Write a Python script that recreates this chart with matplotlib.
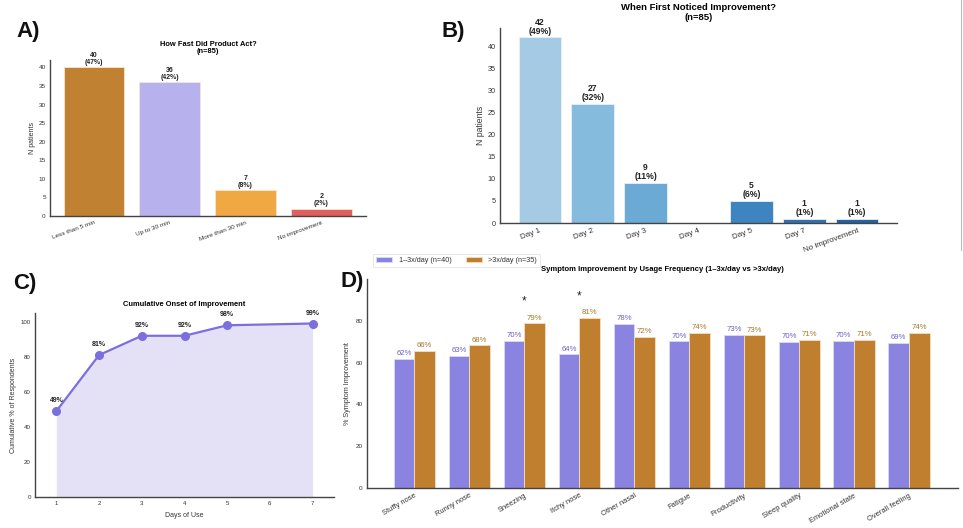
import matplotlib
matplotlib.use("Agg")
import matplotlib.pyplot as plt
import numpy as np

plt.rcParams['font.family'] = ['Liberation Sans', 'DejaVu Sans']

W, H = 963, 528

# ---------------- data ----------------
speed_cats = ["Less than 5 min", "Up to 30 min", "More than 30 min", "No improvement"]
speed_counts = [40, 36, 7, 2]
speed_colors = ["#c08232", "#b7b1ee", "#f0a942", "#e05f5f"]

day_cats = ["Day 1", "Day 2", "Day 3", "Day 4", "Day 5", "Day 7", "No improvement"]
day_counts = [42, 27, 9, 0, 5, 1, 1]
day_colors = ["#a5cbe4", "#85bbdd", "#6aaad4", "#5398cb", "#3e84c1", "#2f70b3", "#2161a6"]

cum_days = [1, 2, 3, 4, 5, 7]
cum_pct = [49, 81, 92, 92, 98, 99]

symptoms = ["Stuffy nose", "Runny nose", "Sneezing", "Itchy nose", "Other nasal",
            "Fatigue", "Productivity", "Sleep quality", "Emotional state", "Overall feeling"]
low_freq = [61.8, 63.3, 70.4, 64.0, 78.4, 70.2, 73.3, 69.9, 70.4, 69.3]
high_freq = [65.6, 68.2, 78.8, 81.4, 72.2, 74.3, 73.0, 71.0, 70.9, 74.3]
signif = [False, False, True, True, False, False, False, False, False, False]

N = 85

fig = plt.figure(figsize=(W / 100, H / 100), dpi=100)


def ax_px(l, t, r, b):
    return fig.add_axes([l / W, 1 - b / H, (r - l) / W, (b - t) / H])


def style(ax, tick_size):
    for s in ["top", "right"]:
        ax.spines[s].set_visible(False)
    for s in ["left", "bottom"]:
        ax.spines[s].set_color("#444444")
        ax.spines[s].set_linewidth(1.0)
    ax.tick_params(axis="both", length=0, labelsize=tick_size, colors="#333333", pad=3)


# ---------------- A ----------------
axA = ax_px(50, 60, 366, 216)
xa = np.arange(len(speed_cats))
axA.bar(xa, speed_counts, width=0.8, color=speed_colors, edgecolor="#f5e6d0", linewidth=0.6)
for x, c in zip(xa, speed_counts):
    axA.text(x, c + 0.4, f"{c}\n({c / N * 100:.0f}%)", ha="center", va="bottom",
             fontsize=5, fontweight="bold", linespacing=1.0, color="#222222")
axA.set_xlim(-0.58, 3.59)
axA.set_ylim(0, 42)
axA.set_xticks(xa)
axA.set_xticklabels(speed_cats, rotation=20, ha="right", rotation_mode="anchor")
axA.set_yticks(range(0, 41, 5))
style(axA, 4.6)
axA.set_ylabel("N patients", fontsize=5, color="#333333", labelpad=2)
axA.set_title("How Fast Did Product Act?\n(n=85)", fontsize=5.4, fontweight="bold",
              pad=5, linespacing=1.1)

# ---------------- B ----------------
axB = ax_px(500, 28, 897, 223)
xb = np.arange(len(day_cats))
axB.bar(xb, day_counts, width=0.8, color=day_colors, edgecolor="#e8f0f8", linewidth=0.6)
for x, c in zip(xb, day_counts):
    if c > 0:
        axB.text(x, c + 0.4, f"{c}\n({c / N * 100:.0f}%)", ha="center", va="bottom",
                 fontsize=6.2, fontweight="bold", linespacing=1.0, color="#222222")
axB.set_xlim(-0.75, 6.75)
axB.set_ylim(0, 44.1)
axB.set_xticks(xb)
axB.set_xticklabels(day_cats, rotation=20, ha="right", rotation_mode="anchor")
axB.set_yticks(range(0, 41, 5))
style(axB, 5.8)
axB.tick_params(axis="y", labelsize=5.2)
axB.set_ylabel("N patients", fontsize=6.2, color="#333333", labelpad=2)
axB.set_title("When First Noticed Improvement?\n(n=85)", fontsize=6.8, fontweight="bold",
              pad=6, linespacing=1.05)

# ---------------- C ----------------
axC = ax_px(35, 313, 334, 497)
axC.fill_between(cum_days, cum_pct, 0, color="#e4e1f7", linewidth=0)
axC.plot(cum_days, cum_pct, color="#7b6fdd", linewidth=1.6, marker="o", markersize=5.5,
         markerfacecolor="#7b6fdd", markeredgecolor="#7b6fdd")
for d, p in zip(cum_days, cum_pct):
    axC.text(d, p + 4, f"{p}%", ha="center", va="bottom", fontsize=5,
             fontweight="bold", color="#222222")
axC.set_xlim(0.5, 7.5)
axC.set_ylim(0, 105)
axC.set_xticks(range(1, 8))
axC.set_yticks(range(0, 101, 20))
style(axC, 4.4)
axC.set_xlabel("Days of Use", fontsize=5, color="#333333", labelpad=4)
axC.set_ylabel("Cumulative % of Respondents", fontsize=5, color="#333333", labelpad=3)
axC.set_title("Cumulative Onset of Improvement", fontsize=5.4, fontweight="bold", pad=5)

# ---------------- D ----------------
axD = ax_px(367, 279, 958, 488)
xd = np.arange(len(symptoms))
bw = 0.375
purple = "#8a83e0"
orange = "#bf7f2e"
axD.bar(xd - bw / 2, low_freq, width=bw, color=purple, edgecolor="#dcd8f8",
        linewidth=0.6, label="1\u20133x/day (n=40)")
axD.bar(xd + bw / 2, high_freq, width=bw, color=orange, edgecolor="#f3dfbf",
        linewidth=0.6, label=">3x/day (n=35)")
for x, v in zip(xd, low_freq):
    axD.text(x - bw / 2, v + 0.8, f"{v:.0f}%", ha="center", va="bottom", fontsize=5.6,
             color="#6a62c4")
for x, v in zip(xd, high_freq):
    axD.text(x + bw / 2, v + 0.8, f"{v:.0f}%", ha="center", va="bottom", fontsize=5.6,
             color="#a5772a")
for x, s, a, b in zip(xd, signif, low_freq, high_freq):
    if s:
        axD.text(x, max(a, b) + 7.5, "*", ha="center", va="bottom", fontsize=8.5,
                 color="#222222")
axD.set_xlim(-0.86, 9.89)
axD.set_ylim(0, 100)
axD.set_xticks(xd)
axD.set_xticklabels(symptoms, rotation=30, ha="right", rotation_mode="anchor")
axD.set_yticks(range(0, 81, 20))
style(axD, 5.4)
axD.tick_params(axis="y", labelsize=4.6)
axD.set_ylabel("% Symptom Improvement", fontsize=5.2, color="#333333", labelpad=3)
axD.set_title("Symptom Improvement by Usage Frequency (1\u20133x/day vs >3x/day)",
              fontsize=5.5, fontweight="bold", pad=6)
leg = axD.legend(loc="lower left", bbox_to_anchor=(0.004, 1.04), ncol=2, fontsize=5.2,
                 frameon=True, handlelength=2.2, handleheight=0.6, columnspacing=2.0,
                 handletextpad=0.9, borderpad=0.45, labelcolor="#333333")
leg.get_frame().set_edgecolor("#dddddd")
leg.get_frame().set_linewidth(0.6)

# ---------------- panel letters ----------------
for lab, (px, py) in {"A)": (28, 31), "B)": (453, 32), "C)": (25, 283), "D)": (352, 281)}.items():
    fig.text(px / W, 1 - py / H, lab, fontsize=16, fontweight="bold", ha="center",
             va="center", color="#111111")

# thin border line at right edge (from original composite)
fig.add_artist(plt.Line2D([961 / W, 961 / W], [1 - 0 / H, 1 - 250 / H], color="#bbbbbb",
                          linewidth=0.8, transform=fig.transFigure))

fig.savefig("out.png", dpi=100)
